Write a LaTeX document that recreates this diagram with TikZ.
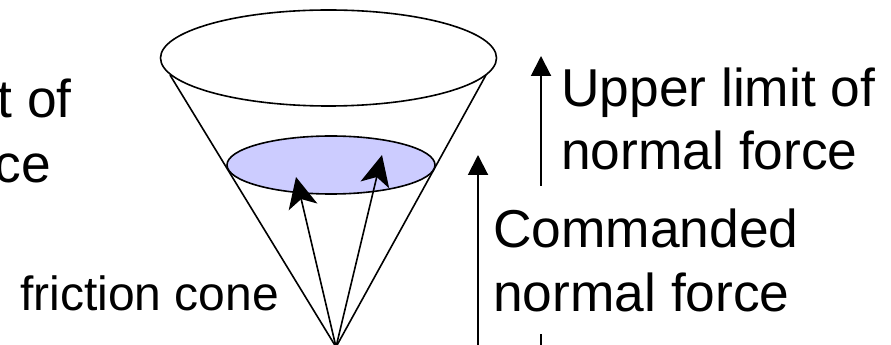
\documentclass[tikz,border=0pt]{standalone}
\usepackage{fontspec}
\setmainfont{Liberation Sans}
\usetikzlibrary{arrows.meta}
\definecolor{conefill}{HTML}{CCCCFF}
\tikzset{
  x=0.75pt,y=-0.75pt,
  outline/.style={draw=black,line width=1.2pt},
  conearrow/.style={draw=black,line width=1.2pt,-{Stealth[length=23pt,width=22pt,inset=6pt]}},
  heightarrow/.style={draw=black,line width=1.5pt,-{Triangle[length=15pt,width=15pt]}},
  heightline/.style={draw=black,line width=1.5pt},
  biglabel/.style={inner sep=0pt,font=\fontsize{40pt}{48pt}\selectfont,anchor=base west},
  biglabelright/.style={inner sep=0pt,font=\fontsize{40pt}{48pt}\selectfont,anchor=base east},
  smalllabel/.style={inner sep=0pt,font=\fontsize{36pt}{43pt}\selectfont,anchor=base west},
}
\begin{document}
\begin{tikzpicture}
\useasboundingbox (0,0) rectangle (891,345);
\clip (0,0) rectangle (891,345);
\coordinate (apex) at (336,347);
\coordinate (coneL) at (170,75);
\coordinate (coneR) at (486,75);
\coordinate (tipL) at (296,177);
\coordinate (tipR) at (382,155);
\coordinate (hiTip) at (541,56);
\coordinate (hiFoot) at (541,186);
\coordinate (hiStub) at (541,334);
\coordinate (hiBase) at (541,347);
\coordinate (cmdTip) at (478,155);
\coordinate (cmdBase) at (478,347);
% cone
\draw[outline] (328.5,58) ellipse [x radius=168,y radius=48];
\draw[outline,fill=conefill] (331,165) ellipse [x radius=104,y radius=29];
\draw[outline] (coneL) -- (apex) -- (coneR);
\draw[conearrow] (apex) -- (tipL);
\draw[conearrow] (apex) -- (tipR);
% height arrows
\draw[heightarrow] (hiFoot) -- (hiTip);
\draw[heightline] (hiBase) -- (hiStub);
\draw[heightarrow] (cmdBase) -- (cmdTip);
% labels
\node[biglabelright] (lowA) at (72,118) {t of};
\node[biglabelright] (lowB) at (51,183) {ce};
\node[smalllabel] (cone) at (20,310) {friction cone};
\node[biglabel] (upA) at (561,107) {Upper limit of};
\node[biglabel] (upB) at (561,170) {normal force};
\node[biglabel] (cmdA) at (493,247) {Commanded};
\node[biglabel] (cmdB) at (493,311) {normal force};
\end{tikzpicture}
\end{document}
